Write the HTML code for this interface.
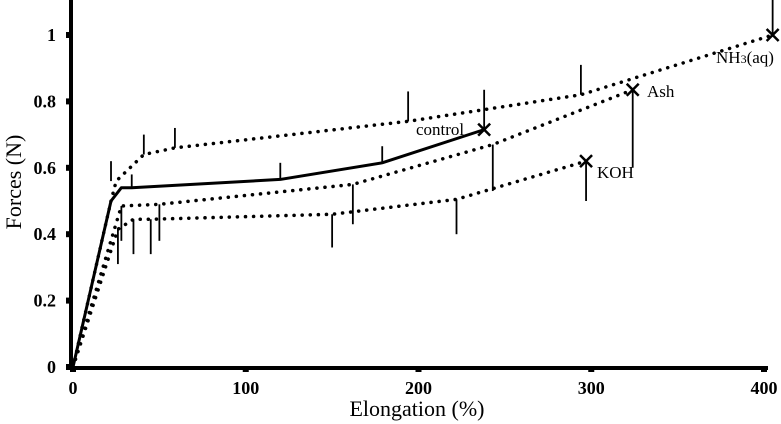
<!DOCTYPE html>
<html><head><meta charset="utf-8"><style>
html,body{margin:0;padding:0;background:#fff;}
svg{display:block;font-family:"Liberation Serif",serif;}
.tick{font-weight:bold;font-size:18px;}
</style></head><body>
<svg id="chart" width="781" height="424" viewBox="0 0 781 424">
<g id="marks"></g>
<g id="axes"></g>
</svg>
<script>
const xTicks=[0,100,200,300,400];
const yTicks=[0,0.2,0.4,0.6,0.8,1];
const yTickLabels=["0","0.2","0.4","0.6","0.8","1"];
const controlX=[0,22,28,34,120,179,238];
const controlY=[0,0.50,0.54,0.54,0.565,0.615,0.715];
const nh3X=[0,22,25,41,59,194,294,405];
const nh3Y=[0,0.50,0.56,0.64,0.66,0.74,0.82,1.0];
const ashX=[0,28,50,162,243,324];
const ashY=[0,0.485,0.49,0.55,0.67,0.835];
const kohX=[0,26,35,45,150,222,297];
const kohY=[0,0.415,0.445,0.445,0.46,0.505,0.62];
// error bars: x, y, end value
const controlErrX=[22,34,120,179,238];
const controlErrY=[0.56,0.54,0.565,0.615,0.715];
const controlErrEnd=[0.62,0.58,0.615,0.665,0.835];
const nh3ErrX=[41,59,194,294,405];
const nh3ErrY=[0.64,0.66,0.74,0.82,1.0];
const nh3ErrEnd=[0.70,0.72,0.83,0.91,1.11];
const ashErrX=[28,50,162,243,324];
const ashErrY=[0.485,0.49,0.55,0.67,0.835];
const ashErrEnd=[0.38,0.38,0.43,0.53,0.60];
const kohErrX=[26,35,45,150,222,297];
const kohErrY=[0.415,0.445,0.445,0.46,0.505,0.62];
const kohErrEnd=[0.31,0.34,0.34,0.36,0.40,0.50];

const X0=73,X1=764,Y0=367,Y1=35;
const sx=v=>X0+(X1-X0)*v/400;
const sy=v=>Y0-(Y0-Y1)*v;
const NS="http://www.w3.org/2000/svg";
const marks=document.getElementById('marks');
const axes=document.getElementById('axes');
function mk(tag,attrs,parent){const e=document.createElementNS(NS,tag);for(const k in attrs)e.setAttribute(k,attrs[k]);parent.appendChild(e);return e;}

function series(xs,ys,name,solid){
  const pts=xs.map((x,i)=>sx(x)+','+sy(ys[i])).join(' ');
  const p=mk('polyline',{points:pts,fill:'none',stroke:'#000','stroke-width':solid?3:3.5,'stroke-dasharray':solid?'none':'0.1 8','stroke-linecap':'round','stroke-linejoin':'round'},marks);
  
  
  const xe=sx(xs[xs.length-1]),ye=sy(ys[ys.length-1]);
  const m=mk('path',{d:`M${xe-6},${ye-6}L${xe+6},${ye+6}M${xe-6},${ye+6}L${xe+6},${ye-6}`,stroke:'#000','stroke-width':2.5},marks);
  
  
}
function errs(xs,ys,ends,name){
  xs.forEach((x,i)=>{
    const l=mk('line',{x1:sx(x),x2:sx(x),y1:sy(ys[i]),y2:sy(ends[i]),stroke:'#000','stroke-width':1.8},marks);
    
    
  });
}
errs(controlErrX,controlErrY,controlErrEnd,'control');
errs(nh3ErrX,nh3ErrY,nh3ErrEnd,'nh3');
errs(ashErrX,ashErrY,ashErrEnd,'ash');
errs(kohErrX,kohErrY,kohErrEnd,'koh');
series(nh3X,nh3Y,'nh3',false);
series(ashX,ashY,'ash',false);
series(kohX,kohY,'koh',false);
series(controlX,controlY,'control',true);

// axes
const ya=mk('line',{x1:71,x2:71,y1:0,y2:369,stroke:'#000','stroke-width':4},axes);


const xa=mk('line',{x1:69,x2:768,y1:368,y2:368,stroke:'#000','stroke-width':4},axes);


xTicks.forEach(v=>{
  mk('rect',{x:sx(v)-3,y:368,width:6,height:4,fill:'#000'},axes);
  const t=mk('text',{x:sx(v),y:394,'text-anchor':'middle',class:'tick'},axes);
  t.textContent=v;
  
  
});
yTicks.forEach((v,i)=>{
  mk('rect',{x:66,y:sy(v)-3,width:4,height:6,fill:'#000'},axes);
  const t=mk('text',{x:56,y:sy(v)+6,'text-anchor':'end',class:'tick'},axes);
  t.textContent=yTickLabels[i];
  
  
});
</script>
<svg style="position:absolute;left:0;top:0" width="781" height="424">
<text x="417" y="416" text-anchor="middle" font-size="22" font-family="Liberation Serif,serif">Elongation (%)</text>
<text transform="translate(21,182) rotate(-90)" text-anchor="middle" font-size="22" font-family="Liberation Serif,serif">Forces (N)</text>
<text x="416" y="135" font-size="17" font-family="Liberation Serif,serif">control</text>
<text x="647" y="97" font-size="17" font-family="Liberation Serif,serif">Ash</text>
<text x="597" y="178" font-size="17" font-family="Liberation Serif,serif">KOH</text>
<text x="716" y="63" font-size="17" font-family="Liberation Serif,serif">NH<tspan font-size="12">3</tspan>(aq)</text>
</svg>
</body></html>
